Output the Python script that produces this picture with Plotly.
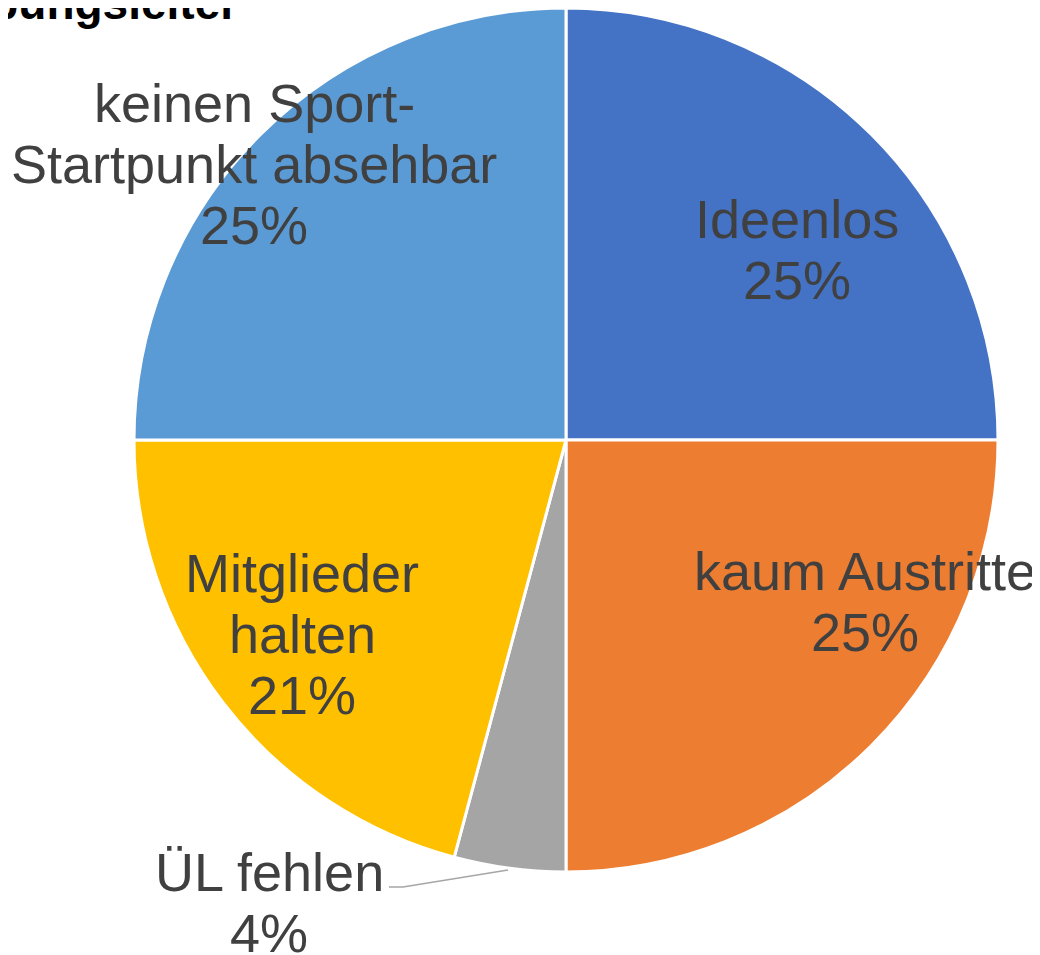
import plotly.graph_objects as go

W, H = 1040, 955
OFF = 8  # page body margin

categories = ["Ideenlos", "kaum Austritte", "ÜL fehlen", "Mitglieder halten", "keinen Sport-Startpunkt absehbar"]
values = [6, 6, 1, 5, 6]
label_lines = [["Ideenlos"], ["kaum Austritte"], ["ÜL fehlen"], ["Mitglieder", "halten"], ["keinen Sport-", "Startpunkt absehbar"]]
colors = ["#4472C4", "#ED7D31", "#A5A5A5", "#FFC000", "#5B9BD5"]
title_text = "Übungsleiter"

# label centre positions (window pixels) and line spacing
label_pos = [(797, 249), (865, 601), (269, 902), (302, 634), (254, 164)]
line_gap = 61

cx, cy, r = 566, 440, 432

def px(x):
    return (x - OFF) / W

def py(y):
    return 1 - (y - OFF) / H

fig = go.Figure(go.Pie(
    labels=categories,
    values=values,
    sort=False,
    direction="clockwise",
    rotation=0,
    marker=dict(colors=colors, line=dict(color="white", width=3)),
    textinfo="none",
    hoverinfo="label+percent",
    showlegend=False,
    domain=dict(x=[px(cx - r), px(cx + r)], y=[max(0, py(cy + r)), min(1, py(cy - r))]),
))

total = sum(values)
annotations = []
for lines, v, (x, y) in zip(label_lines, values, label_pos):
    all_lines = lines + [f"{round(100 * v / total)}%"]
    n = len(all_lines)
    for i, t in enumerate(all_lines):
        yy = y + (i - (n - 1) / 2) * line_gap
        annotations.append(dict(
            x=px(x), y=py(yy), xref="paper", yref="paper",
            text=t, showarrow=False, xanchor="center", yanchor="middle",
            font=dict(family="Liberation Sans, Arial, sans-serif", size=54, color="#404040"),
        ))

annotations.append(dict(
    x=px(240), y=py(20), xref="paper", yref="paper",
    text=f"<b>{title_text}</b>", showarrow=False, xanchor="right", yanchor="bottom",
    yshift=-11,
    font=dict(family="Liberation Sans, Arial, sans-serif", size=46, color="#000000"),
))

fig.update_layout(
    width=W, height=H,
    margin=dict(l=0, r=0, t=0, b=0),
    paper_bgcolor="white",
    plot_bgcolor="white",
    annotations=annotations,
    shapes=[dict(
        type="path", xref="paper", yref="paper",
        path=f"M {px(389)} {py(887)} L {px(403)} {py(887)} L {px(508)} {py(870)}",
        line=dict(color="#A6A6A6", width=1.5),
    )],
)

fig.write_html("out.html")
